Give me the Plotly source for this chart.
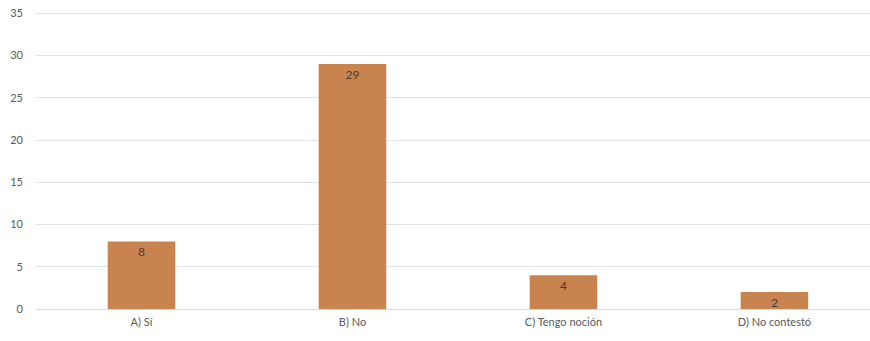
import plotly.graph_objects as go

categories = ["A) Sí", "B) No", "C) Tengo noción", "D) No contestó"]
values = [8, 29, 4, 2]
y_ticks = [0, 5, 10, 15, 20, 25, 30, 35]

fig = go.Figure(go.Bar(
    x=categories, y=values,
    marker=dict(color="#C8834E", line=dict(width=0)),
    width=0.32,
    text=[str(v) for v in values],
    textposition="inside", insidetextanchor="end", textangle=0,
    constraintext="none",
    textfont=dict(family="Lato, sans-serif", size=12, color="#404040"),
))

fig.update_layout(
    width=870, height=341,
    margin=dict(l=36, r=0, t=12, b=32),
    paper_bgcolor="white", plot_bgcolor="white",
    showlegend=False,
    font=dict(family="Lato, sans-serif", size=11, color="#595959"),
    xaxis=dict(
        type="category", range=[-0.5, 3.453], automargin=False,
        showgrid=False, showline=False, ticks="", tickfont=dict(size=11, color="#595959"),
        ticklabelstandoff=5,
    ),
    yaxis=dict(
        range=[0, 35.15], tickvals=y_ticks, showgrid=True, gridcolor="#E3E3E3", gridwidth=1,
        zeroline=True, zerolinecolor="#D9D9D9", zerolinewidth=1, automargin=False,
        ticks="", tickfont=dict(size=11, color="#595959"), ticklabelstandoff=12,
        ticklabeloverflow="allow",
    ),
    uniformtext=dict(mode=False),
)

fig.write_html(
    "out.html",
    config={"displayModeBar": False},
    post_script="document.body.style.margin='0';document.body.style.overflow='hidden';",
)
